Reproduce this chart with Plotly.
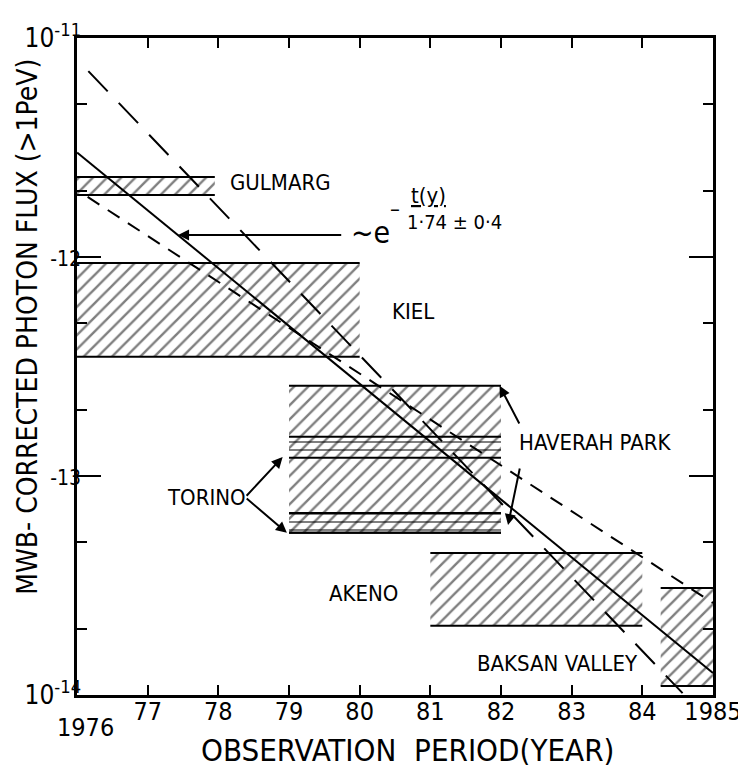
import numpy as np
import plotly.graph_objects as go

FONT = "DejaVu Sans Condensed, Liberation Sans Narrow, sans-serif"

# ---- data -------------------------------------------------------------
band_names = ["GULMARG", "KIEL", "HAVERAH PARK", "AKENO", "BAKSAN VALLEY"]
band_x0 = [1976.0, 1976.0, 1979.0, 1981.0, 1984.26]
band_x1 = [1977.95, 1980.0, 1982.0, 1984.0, 1985.0]
band_lo = [1.92e-12, 3.5e-13, 5.5e-14, 2.07e-14, 1.10e-14]
band_hi = [2.32e-12, 9.4e-13, 2.58e-13, 4.45e-14, 3.08e-14]

torino_x0 = [1979.0, 1979.0]
torino_x1 = [1982.0, 1982.0]
torino_lo = [1.21e-13, 5.5e-14]
torino_hi = [1.51e-13, 6.78e-14]

solid_x = [1976.0, 1985.0]
solid_y = [3.0e-12, 1.26e-14]
longdash_x = [1976.16, 1984.57]
longdash_y = [7.06e-12, 1.02e-14]
shortdash_x = [1976.15, 1985.0]
shortdash_y = [1.88e-12, 2.63e-14]

x_tickvals = [1976, 1977, 1978, 1979, 1980, 1981, 1982, 1983, 1984, 1985]
x_ticktext = ["1976", "77", "78", "79", "80", "81", "82", "83", "84", "1985"]
y_tickvals = [1e-14, 1e-13, 1e-12, 1e-11]
y_ticktext = ["10<sup>-14</sup>",
              "<span style='font-size:21px'>-13</span>",
              "<span style='font-size:21px'>-12</span>",
              "10<sup>-11</sup>"]
y_minor = [2e-14, 5e-14, 2e-13, 5e-13, 2e-12, 5e-12]

# label positions (year, flux)
label_text = ["GULMARG", "KIEL", "HAVERAH PARK", "TORINO", "AKENO", "BAKSAN VALLEY"]
label_x = [1978.14, 1980.43, 1982.22, 1977.24, 1979.54, 1981.63]
label_y = [2.20e-12, 5.66e-13, 1.42e-13, 8.0e-14, 2.92e-14, 1.40e-14]

# arrows: (tail_x, tail_y, head_x, head_y)
arrows = [
    (1979.76, 1.26e-12, 1977.43, 1.26e-12),   # fit formula arrow
    (1978.38, 8.0e-14, 1978.91, 1.22e-13),    # Torino upper
    (1978.38, 8.0e-14, 1978.97, 5.5e-14),     # Torino lower
    (1982.27, 1.71e-13, 1981.98, 2.58e-13),   # Haverah upper
    (1982.27, 1.10e-13, 1982.10, 5.97e-14),   # Haverah lower
]

formula_x = 1979.8
formula_y = 1.26e-12

# ---- figure -----------------------------------------------------------
fig = go.Figure()

def band_trace(x0, x1, lo, hi, shape, size, solidity):
    return go.Scatter(
        x=[x0, x1, x1, x0, x0], y=[lo, lo, hi, hi, lo],
        mode="lines", fill="toself", line=dict(width=0, color="rgba(0,0,0,0)"),
        fillcolor="rgba(255,255,255,0)",
        fillpattern=dict(shape=shape, size=size, solidity=solidity,
                         fgcolor="black", bgcolor="rgba(255,255,255,0)"),
        hoverinfo="skip", showlegend=False)

def edge_trace(x0, x1, lo, hi):
    return go.Scatter(x=[x0, x1, None, x0, x1], y=[hi, hi, None, lo, lo],
                      mode="lines", line=dict(color="black", width=2),
                      hoverinfo="skip", showlegend=False)

for i in range(len(band_names)):
    fig.add_trace(band_trace(band_x0[i], band_x1[i], band_lo[i], band_hi[i], "/", 10, 0.24))
for i in range(len(torino_lo)):
    fig.add_trace(band_trace(torino_x0[i], torino_x1[i], torino_lo[i], torino_hi[i], "-", 8, 0.25))
for i in range(len(band_names)):
    fig.add_trace(edge_trace(band_x0[i], band_x1[i], band_lo[i], band_hi[i]))
for i in range(len(torino_lo)):
    fig.add_trace(edge_trace(torino_x0[i], torino_x1[i], torino_lo[i], torino_hi[i]))

fig.add_trace(go.Scatter(x=solid_x, y=solid_y, mode="lines",
                         line=dict(color="black", width=2), showlegend=False, hoverinfo="skip"))
fig.add_trace(go.Scatter(x=longdash_x, y=longdash_y, mode="lines",
                         line=dict(color="black", width=2, dash="28px,16px"),
                         showlegend=False, hoverinfo="skip"))
fig.add_trace(go.Scatter(x=shortdash_x, y=shortdash_y, mode="lines",
                         line=dict(color="black", width=2, dash="14px,10px"),
                         showlegend=False, hoverinfo="skip"))

annotations = []
for t, x, y in zip(label_text, label_x, label_y):
    annotations.append(dict(x=x, y=np.log10(y), xref="x", yref="y", text=t,
                            showarrow=False, xanchor="left", yanchor="middle",
                            font=dict(family=FONT, size=22, color="black")))
for tx, ty, hx, hy in arrows:
    annotations.append(dict(x=hx, y=np.log10(hy), ax=tx, ay=np.log10(ty),
                            xref="x", yref="y", axref="x", ayref="y", text="",
                            showarrow=True, arrowhead=2, arrowsize=1.1,
                            arrowwidth=2, arrowcolor="black", standoff=0))

# formula  ~e^{-t(y)/(1.74±0.4)}
fy = np.log10(formula_y)
annotations.append(dict(x=formula_x, y=fy, xref="x", yref="y",
                        text="~e", showarrow=False, xanchor="left", yanchor="middle",
                        xshift=3, yshift=3, font=dict(family=FONT, size=30, color="black")))
annotations.append(dict(x=formula_x, y=fy, xref="x", yref="y",
                        text="\u2013", showarrow=False, xanchor="left", yanchor="middle",
                        xshift=42, yshift=27, font=dict(family=FONT, size=22, color="black")))
annotations.append(dict(x=formula_x, y=fy, xref="x", yref="y",
                        text="<span style='text-decoration:underline'>t(y)</span>",
                        showarrow=False, xanchor="left", yanchor="middle",
                        xshift=63, yshift=40, font=dict(family=FONT, size=22, color="black")))
annotations.append(dict(x=formula_x, y=fy, xref="x", yref="y",
                        text="1\u00b774 \u00b1 0\u00b74", showarrow=False,
                        xanchor="left", yanchor="middle",
                        xshift=59, yshift=13, font=dict(family=FONT, size=20, color="black")))

# lone first x tick label, set lower
annotations.append(dict(x=x_tickvals[0], y=0, xref="x", yref="paper",
                        text=x_ticktext[0], showarrow=False, xanchor="center",
                        yanchor="top", xshift=8, yshift=-16,
                        font=dict(family=FONT, size=25, color="black")))

# axis titles
annotations.append(dict(x=-0.079, y=0.56, xref="paper", yref="paper",
                        text="MWB- CORRECTED PHOTON FLUX (>1PeV)", textangle=-90,
                        showarrow=False, xanchor="center", yanchor="middle",
                        font=dict(family=FONT, size=28, color="black")))
annotations.append(dict(x=0.519, y=-0.084, xref="paper", yref="paper",
                        text="OBSERVATION  PERIOD(YEAR)",
                        showarrow=False, xanchor="center", yanchor="middle",
                        font=dict(family=FONT, size=31, color="black")))

# page body has an 8px margin: shrink the figure so the plot lands in place
fig.update_layout(
    width=738, height=764,
    margin=dict(l=69, r=33, t=30, b=77),
    paper_bgcolor="white", plot_bgcolor="white",
    showlegend=False,
    annotations=annotations,
    xaxis=dict(range=[1975.9995, 1985.0005], tickmode="array",
               tickvals=x_tickvals[1:], ticktext=x_ticktext[1:],
               ticks="inside", ticklen=10, tickwidth=2, tickcolor="black",
               showline=True, linecolor="black", linewidth=2.5, mirror="ticks",
               showgrid=False, zeroline=False, automargin=False,
               ticklabelstandoff=-8,
               tickfont=dict(family=FONT, size=25, color="black")),
    yaxis=dict(type="log", range=[-14, -11], tickmode="array",
               tickvals=y_tickvals, ticktext=y_ticktext,
               ticks="inside", ticklen=24, tickwidth=2, tickcolor="black",
               minor=dict(tickmode="array", tickvals=y_minor, ticks="inside",
                          ticklen=10, tickwidth=2, tickcolor="black", showgrid=False),
               showline=True, linecolor="black", linewidth=2.5, mirror="ticks",
               showgrid=False, zeroline=False, automargin=False,
               ticklabelstandoff=-12,
               tickfont=dict(family=FONT, size=26, color="black")),
)

fig.write_html("out.html")
